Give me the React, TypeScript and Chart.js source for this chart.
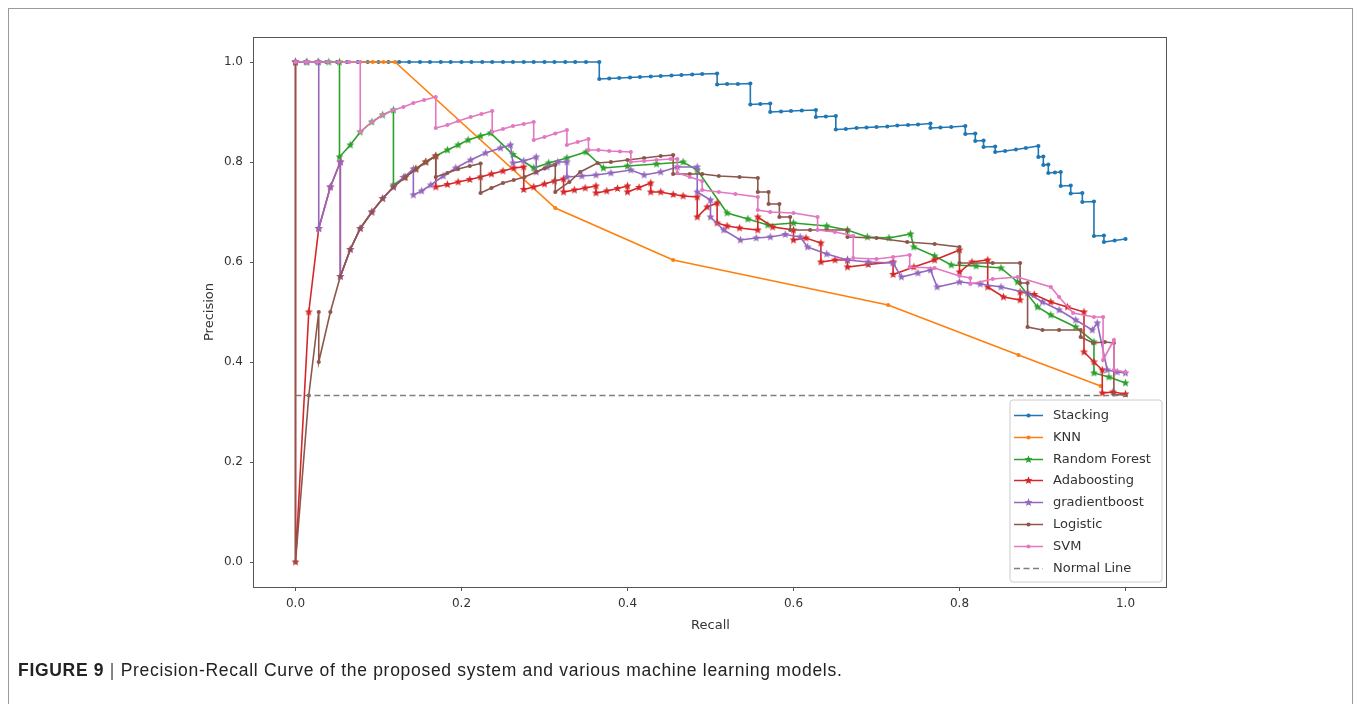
import React, { useEffect, useRef } from "react";
import { Chart, registerables } from "chart.js";

Chart.register(...registerables);

// ---------- data ----------
const stackingRecall = [
  0, 0.012, 0.025, 0.037, 0.05, 0.062, 0.075, 0.087, 0.1, 0.112, 0.125, 0.137, 0.15, 0.162, 0.175,
  0.187, 0.2, 0.212, 0.225, 0.237, 0.25, 0.262, 0.275, 0.287, 0.3, 0.312, 0.325, 0.337, 0.35, 0.366,
  0.366, 0.378, 0.39, 0.403, 0.415, 0.428, 0.44, 0.453, 0.465, 0.478, 0.49, 0.508,
  0.508, 0.52, 0.533, 0.548,
  0.548, 0.56, 0.572,
  0.572, 0.585, 0.597, 0.61, 0.627,
  0.627, 0.639, 0.651,
  0.651, 0.663, 0.676, 0.688, 0.7, 0.713, 0.725, 0.738, 0.75, 0.765,
  0.765, 0.777, 0.79, 0.807,
  0.807, 0.819,
  0.819, 0.829,
  0.829, 0.843,
  0.843, 0.855, 0.868, 0.88, 0.895,
  0.895, 0.901,
  0.901, 0.907,
  0.907, 0.915, 0.922,
  0.922, 0.934,
  0.934, 0.948,
  0.948, 0.962,
  0.962, 0.974,
  0.974, 0.987, 1.0,
];
const stackingPrecision = [
  1, 1, 1, 1, 1, 1, 1, 1, 1, 1, 1, 1, 1, 1, 1,
  1, 1, 1, 1, 1, 1, 1, 1, 1, 1, 1, 1, 1, 1, 1,
  0.966, 0.967, 0.968, 0.969, 0.97, 0.971, 0.972, 0.973, 0.974, 0.975, 0.976, 0.977,
  0.955, 0.956, 0.956, 0.957,
  0.915, 0.916, 0.917,
  0.9, 0.901, 0.902, 0.903, 0.904,
  0.89, 0.891, 0.892,
  0.865, 0.866, 0.868, 0.869, 0.87, 0.871, 0.873, 0.874, 0.875, 0.877,
  0.868, 0.869, 0.87, 0.872,
  0.856, 0.857,
  0.842, 0.843,
  0.83, 0.831,
  0.82, 0.822, 0.825, 0.828, 0.832,
  0.81, 0.811,
  0.794, 0.795,
  0.778, 0.779, 0.78,
  0.752, 0.753,
  0.737, 0.738,
  0.72, 0.721,
  0.652, 0.653,
  0.64, 0.643, 0.646,
];

const knnRecall = [0, 0.093, 0.106, 0.12, 0.313, 0.455, 0.714, 0.871, 0.97];
const knnPrecision = [1, 1, 1, 1, 0.708, 0.604, 0.514, 0.414, 0.352];

const rfRecall = [
  0, 0.013, 0.027, 0.04, 0.053, 0.053, 0.066, 0.078, 0.092, 0.105, 0.118, 0.118, 0.132, 0.145, 0.157,
  0.169, 0.183, 0.196, 0.208, 0.223, 0.235, 0.262, 0.287, 0.305, 0.327, 0.35, 0.371, 0.4, 0.435, 0.467,
  0.484, 0.52, 0.545, 0.569, 0.6, 0.64, 0.665, 0.689, 0.715, 0.741, 0.745, 0.77, 0.79, 0.82, 0.85,
  0.87, 0.894, 0.91, 0.94, 0.962, 0.962, 0.98, 1.0,
];
const rfPrecision = [
  1, 1, 1, 1, 1, 0.81, 0.834, 0.86, 0.88, 0.894, 0.904, 0.754, 0.77, 0.786, 0.8,
  0.812, 0.824, 0.834, 0.844, 0.852, 0.858, 0.815, 0.788, 0.798, 0.808, 0.82, 0.788, 0.792, 0.796, 0.8,
  0.784, 0.698, 0.686, 0.674, 0.678, 0.672, 0.664, 0.65, 0.648, 0.656, 0.63, 0.612, 0.594, 0.592, 0.588,
  0.56, 0.51, 0.494, 0.47, 0.44, 0.378, 0.37, 0.358,
];

const adaRecall = [
  0, 0, 0.016, 0.028, 0.042, 0.054, 0.054, 0.066, 0.078, 0.092, 0.105, 0.118, 0.132, 0.145, 0.157,
  0.169, 0.169, 0.183, 0.196, 0.21, 0.223, 0.236, 0.25, 0.263, 0.275, 0.275, 0.287, 0.3, 0.312, 0.323,
  0.323, 0.336, 0.349, 0.362, 0.362, 0.375, 0.388, 0.4, 0.4, 0.414, 0.428, 0.428, 0.44, 0.455, 0.467,
  0.484, 0.484, 0.496, 0.508, 0.508, 0.52, 0.535, 0.557, 0.557, 0.575, 0.6, 0.6, 0.615, 0.633, 0.633,
  0.65, 0.665, 0.665, 0.69, 0.72, 0.72, 0.745, 0.77, 0.8, 0.8, 0.815, 0.834, 0.834, 0.853, 0.873,
  0.873, 0.89, 0.91, 0.93, 0.95, 0.95, 0.962, 0.972, 0.972, 0.985, 1.0,
];
const adaPrecision = [
  1, 0, 0.5, 0.667, 0.75, 0.8, 0.571, 0.625, 0.667, 0.7, 0.727, 0.75, 0.769, 0.786, 0.8,
  0.812, 0.75, 0.755, 0.76, 0.765, 0.77, 0.776, 0.782, 0.788, 0.79, 0.745, 0.75, 0.756, 0.762, 0.766,
  0.74, 0.744, 0.748, 0.752, 0.738, 0.742, 0.747, 0.752, 0.74, 0.749, 0.758, 0.74, 0.74, 0.735, 0.732,
  0.73, 0.69, 0.71, 0.718, 0.678, 0.672, 0.668, 0.664, 0.69, 0.67, 0.664, 0.644, 0.648, 0.638, 0.6,
  0.604, 0.604, 0.59, 0.595, 0.6, 0.575, 0.59, 0.604, 0.624, 0.58, 0.6, 0.604, 0.55, 0.53, 0.524,
  0.54, 0.535, 0.52, 0.51, 0.5, 0.42, 0.4, 0.384, 0.338, 0.34, 0.336,
];

const gbRecall = [
  0, 0.014, 0.028, 0.028, 0.042, 0.054, 0.054, 0.066, 0.078, 0.092, 0.105, 0.118, 0.13, 0.142, 0.142,
  0.152, 0.163, 0.178, 0.193, 0.211, 0.229, 0.247, 0.259, 0.262, 0.275, 0.29, 0.29, 0.303, 0.316, 0.327,
  0.327, 0.345, 0.362, 0.38, 0.404, 0.42, 0.44, 0.46, 0.484, 0.484, 0.5, 0.5, 0.516, 0.536, 0.555,
  0.572, 0.59, 0.608, 0.617, 0.64, 0.665, 0.69, 0.72, 0.73, 0.75, 0.765, 0.773, 0.8, 0.825, 0.85,
  0.882, 0.9, 0.92, 0.94, 0.96, 0.966, 0.978, 0.99, 1.0,
];
const gbPrecision = [
  1, 1, 1, 0.667, 0.75, 0.8, 0.571, 0.625, 0.667, 0.7, 0.727, 0.75, 0.769, 0.786, 0.734,
  0.742, 0.754, 0.772, 0.788, 0.804, 0.818, 0.828, 0.834, 0.798, 0.802, 0.81, 0.78, 0.79, 0.8, 0.8,
  0.77, 0.772, 0.774, 0.778, 0.784, 0.774, 0.78, 0.79, 0.79, 0.74, 0.724, 0.69, 0.664, 0.644, 0.648,
  0.65, 0.655, 0.65, 0.63, 0.616, 0.604, 0.6, 0.598, 0.57, 0.578, 0.584, 0.55, 0.56, 0.556, 0.55,
  0.538, 0.52, 0.504, 0.484, 0.464, 0.478, 0.384, 0.38, 0.378,
];

const logRecall = [
  0, 0, 0.016, 0.028, 0.028, 0.042, 0.054, 0.066, 0.078, 0.092, 0.105, 0.118, 0.132, 0.145, 0.157,
  0.169, 0.169, 0.183, 0.196, 0.21, 0.223, 0.223, 0.236, 0.25, 0.263, 0.276, 0.29, 0.3, 0.313, 0.313,
  0.33, 0.343, 0.364, 0.38, 0.4, 0.42, 0.44, 0.455, 0.455, 0.475, 0.49, 0.51, 0.535, 0.557, 0.557,
  0.57, 0.57, 0.583, 0.583, 0.596, 0.596, 0.62, 0.64, 0.665, 0.665, 0.7, 0.737, 0.77, 0.8, 0.8,
  0.84, 0.873, 0.873, 0.882, 0.882, 0.9, 0.92, 0.946, 0.946, 0.961, 0.975, 0.986, 0.986, 1.0,
];
const logPrecision = [
  1, 0, 0.333, 0.5, 0.4, 0.5, 0.571, 0.625, 0.667, 0.7, 0.727, 0.75, 0.769, 0.786, 0.8,
  0.812, 0.77, 0.778, 0.786, 0.792, 0.797, 0.738, 0.748, 0.758, 0.764, 0.77, 0.78, 0.787, 0.794, 0.74,
  0.76, 0.78, 0.798, 0.8, 0.804, 0.808, 0.812, 0.814, 0.776, 0.776, 0.776, 0.772, 0.77, 0.768, 0.74,
  0.74, 0.716, 0.716, 0.69, 0.69, 0.664, 0.664, 0.664, 0.664, 0.65, 0.648, 0.64, 0.636, 0.63, 0.598,
  0.598, 0.598, 0.558, 0.558, 0.47, 0.464, 0.464, 0.464, 0.45, 0.438, 0.44, 0.438, 0.335, 0.334,
];

const svmRecall = [
  0, 0.013, 0.026, 0.039, 0.052, 0.065, 0.078, 0.078, 0.092, 0.105, 0.118, 0.13, 0.142, 0.155, 0.169,
  0.169, 0.183, 0.196, 0.211, 0.224, 0.237, 0.237, 0.25, 0.262, 0.275, 0.287, 0.287, 0.3, 0.313, 0.327,
  0.327, 0.34, 0.353, 0.353, 0.365, 0.378, 0.391, 0.404, 0.404, 0.42, 0.435, 0.452, 0.46, 0.46, 0.475,
  0.49, 0.49, 0.51, 0.53, 0.557, 0.557, 0.572, 0.6, 0.629, 0.629, 0.65, 0.672, 0.672, 0.7, 0.72,
  0.74, 0.74, 0.77, 0.8, 0.813, 0.813, 0.84, 0.87, 0.91, 0.92, 0.937, 0.962, 0.973, 0.973, 0.986,
  0.986, 1.0,
];
const svmPrecision = [
  1, 1, 1, 1, 1, 1, 1, 0.86, 0.88, 0.894, 0.904, 0.91, 0.918, 0.924, 0.93,
  0.868, 0.874, 0.882, 0.89, 0.896, 0.902, 0.86, 0.866, 0.872, 0.876, 0.88, 0.844, 0.85, 0.857, 0.864,
  0.834, 0.84, 0.846, 0.824, 0.824, 0.822, 0.821, 0.82, 0.8, 0.802, 0.804, 0.806, 0.806, 0.778, 0.77,
  0.762, 0.744, 0.74, 0.736, 0.73, 0.704, 0.7, 0.698, 0.69, 0.664, 0.66, 0.652, 0.608, 0.606, 0.61,
  0.614, 0.59, 0.588, 0.572, 0.568, 0.556, 0.566, 0.57, 0.55, 0.53, 0.498, 0.49, 0.49, 0.404, 0.444,
  0.384, 0.38,
];

const normalRecall = [0, 1];
const normalPrecision = [0.333, 0.333];

const seriesNames = ["Stacking", "KNN", "Random Forest", "Adaboosting", "gradientboost", "Logistic", "SVM", "Normal Line"];
const seriesColors = ["#1f77b4", "#ff7f0e", "#2ca02c", "#d62728", "#9467bd", "#8c564b", "#e377c2", "#7f7f7f"];
const seriesMarkers = ["dot", "dot", "star", "star", "star", "dot", "dot", "none"];
const seriesRecall = [stackingRecall, knnRecall, rfRecall, adaRecall, gbRecall, logRecall, svmRecall, normalRecall];
const seriesPrecision = [stackingPrecision, knnPrecision, rfPrecision, adaPrecision, gbPrecision, logPrecision, svmPrecision, normalPrecision];

const xAxisTitle = "Recall";
const yAxisTitle = "Precision";
const captionBold = "FIGURE 9";
const captionText = "Precision-Recall Curve of the proposed system and various machine learning models.";

function makeStar(color: string, r: number): HTMLCanvasElement {
  const size = Math.ceil(r * 2 + 2);
  const c = document.createElement("canvas");
  c.width = size;
  c.height = size;
  const g = c.getContext("2d") as CanvasRenderingContext2D;
  const cx = size / 2;
  const cy = size / 2;
  g.beginPath();
  for (let i = 0; i < 10; i++) {
    const ang = -Math.PI / 2 + (i * Math.PI) / 5;
    const rad = i % 2 === 0 ? r : r * 0.45;
    const px = cx + rad * Math.cos(ang);
    const py = cy + rad * Math.sin(ang);
    if (i === 0) g.moveTo(px, py);
    else g.lineTo(px, py);
  }
  g.closePath();
  g.fillStyle = color;
  g.fill();
  return c;
}

const FONT = "'DejaVu Sans', sans-serif";

export default function App() {
  const canvasRef = useRef<HTMLCanvasElement | null>(null);

  useEffect(() => {
    const canvas = canvasRef.current;
    if (!canvas) return;
    const n = seriesNames.length;
    const markerImgs = seriesColors.map((c, i) => (seriesMarkers[i] === "star" ? makeStar(c, 4.2) : null));

    const datasets = seriesNames.map((name, i) => {
      const data = seriesRecall[i].map((x, k) => ({ x, y: seriesPrecision[i][k] }));
      const m = seriesMarkers[i];
      return {
        label: name,
        data,
        showLine: true,
        borderColor: seriesColors[i],
        backgroundColor: seriesColors[i],
        borderWidth: 1.6,
        borderDash: m === "none" ? [6, 3.5] : [],
        pointRadius: m === "none" ? 0 : m === "star" ? 4 : 2.1,
        pointStyle: m === "star" ? (markerImgs[i] as any) : "circle",
        pointBorderWidth: 0,
        pointHoverRadius: 0,
        tension: 0,
        order: n - i,
      };
    });

    const framePlugin = {
      id: "mplFrameLegend",
      afterDatasetsDraw(chart: any) {
        const { ctx, chartArea } = chart;
        const { left, right, top, bottom } = chartArea;
        ctx.save();
        ctx.strokeStyle = "#555";
        ctx.lineWidth = 1;
        ctx.strokeRect(Math.round(left) - 0.5, Math.round(top) + 0.5, Math.round(right - left), Math.round(bottom - top));

        // legend (matplotlib style, lower right)
        const x1 = right - 5;
        const y1 = bottom - 5;
        const w = 152;
        const h = 182;
        const x0 = x1 - w;
        const y0 = y1 - h;
        ctx.beginPath();
        const rr = 3;
        ctx.moveTo(x0 + rr, y0);
        ctx.lineTo(x1 - rr, y0);
        ctx.quadraticCurveTo(x1, y0, x1, y0 + rr);
        ctx.lineTo(x1, y1 - rr);
        ctx.quadraticCurveTo(x1, y1, x1 - rr, y1);
        ctx.lineTo(x0 + rr, y1);
        ctx.quadraticCurveTo(x0, y1, x0, y1 - rr);
        ctx.lineTo(x0, y0 + rr);
        ctx.quadraticCurveTo(x0, y0, x0 + rr, y0);
        ctx.closePath();
        ctx.fillStyle = "rgba(255,255,255,0.85)";
        ctx.fill();
        ctx.strokeStyle = "#cccccc";
        ctx.lineWidth = 1;
        ctx.stroke();

        ctx.font = `13px ${FONT}`;
        ctx.textBaseline = "middle";
        ctx.textAlign = "left";
        seriesNames.forEach((name, i) => {
          const cy = Math.round(y0 + 15 + i * 21.8) + 0.5;
          const color = seriesColors[i];
          ctx.strokeStyle = color;
          ctx.lineWidth = 1.5;
          ctx.setLineDash(seriesMarkers[i] === "none" ? [6, 3.5] : []);
          ctx.beginPath();
          ctx.moveTo(x0 + 4, cy);
          ctx.lineTo(x0 + 33, cy);
          ctx.stroke();
          ctx.setLineDash([]);
          const mx = x0 + 18.5;
          if (seriesMarkers[i] === "star") {
            const img = markerImgs[i] as HTMLCanvasElement;
            ctx.drawImage(img, mx - img.width / 2, cy - img.height / 2);
          } else if (seriesMarkers[i] === "dot") {
            ctx.fillStyle = color;
            ctx.beginPath();
            ctx.arc(mx, cy, 2.1, 0, Math.PI * 2);
            ctx.fill();
          }
          ctx.fillStyle = "#333";
          ctx.fillText(name, x0 + 43, cy + 0.5);
        });
        ctx.restore();
      },
    };

    const tickFont = { family: FONT, size: 12 };
    const titleFont = { family: FONT, size: 13 };

    const chart = new Chart(canvas, {
      type: "scatter",
      data: { datasets: datasets as any },
      options: {
        responsive: false,
        animation: false,
        events: [],
        layout: { padding: { left: 200, right: 193, top: 37, bottom: 57 } },
        plugins: { legend: { display: false }, tooltip: { enabled: false } },
        scales: {
          x: {
            type: "linear",
            min: -0.05,
            max: 1.05,
            afterFit: (s: any) => {
              s.height = 60;
            },
            ticks: {
              stepSize: 0.2,
              includeBounds: false,
              maxRotation: 0,
              autoSkip: false,
              padding: 6,
              color: "#333",
              font: tickFont,
              callback: (v: any) => Number(v).toFixed(1),
            },
            grid: { drawOnChartArea: false, drawTicks: true, tickLength: 4, color: "#555" },
            border: { display: false },
            title: { display: true, text: xAxisTitle, color: "#333", font: titleFont, padding: { top: 0, bottom: 14 } },
          },
          y: {
            type: "linear",
            min: -0.05,
            max: 1.05,
            afterFit: (s: any) => {
              s.width = 54;
            },
            ticks: {
              stepSize: 0.2,
              includeBounds: false,
              autoSkip: false,
              padding: 7,
              color: "#333",
              font: tickFont,
              callback: (v: any) => Number(v).toFixed(1),
            },
            grid: { drawOnChartArea: false, drawTicks: true, tickLength: 4, color: "#555" },
            border: { display: false },
            title: { display: true, text: yAxisTitle, color: "#333", font: titleFont, padding: { top: 2, bottom: 0 } },
          },
        },
      },
      plugins: [framePlugin],
    });

    return () => {
      chart.destroy();
    };
  }, []);

  return (
    <div style={{ position: "absolute", left: 0, top: 0, width: 1360, height: 704, overflow: "hidden", background: "#fff" }}>
      <div
        style={{
          position: "absolute",
          left: 8,
          top: 8,
          width: 1345,
          height: 740,
          border: "1px solid #9a9a9a",
          boxSizing: "border-box",
        }}
      />
      <canvas ref={canvasRef} width={1360} height={704} style={{ position: "absolute", left: 0, top: 0, width: 1360, height: 704 }} />
      <div
        style={{
          position: "absolute",
          left: 18,
          top: 660,
          fontFamily: "'Liberation Sans', Arial, sans-serif",
          fontSize: 17.5,
          letterSpacing: 0.7,
          color: "#222",
          whiteSpace: "nowrap",
        }}
      >
        <span style={{ fontWeight: "bold" }}>{captionBold}</span>
        <span style={{ color: "#555" }}> | </span>
        <span>{captionText}</span>
      </div>
    </div>
  );
}
